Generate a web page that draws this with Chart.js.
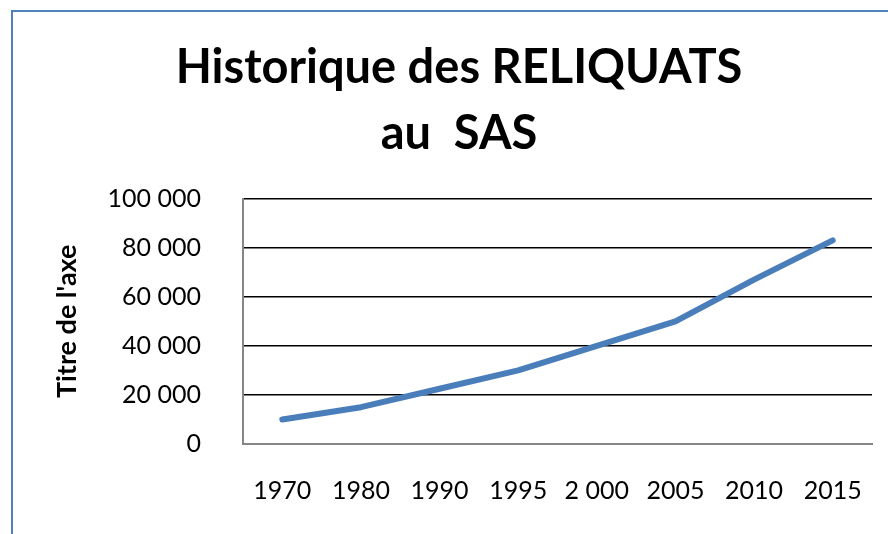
<!DOCTYPE html>
<html>
<head>
<meta charset="utf-8">
<title>Historique des RELIQUATS au SAS</title>
<script src="https://cdn.jsdelivr.net/npm/chart.js@4.4.1/dist/chart.umd.min.js"></script>
<style>
    html, body { margin: 0; padding: 0; background: #fff; overflow: hidden; }
    .wrapper { position: relative; width: 888px; height: 534px; }
    .frame {
        position: absolute; left: 11px; top: 10px; width: 900px; height: 600px;
        border-left: 2px solid #4f81bd; border-top: 2px solid #4f81bd;
        pointer-events: none;
    }
</style>
</head>
<body>

<script>
    const years = ["1970", "1980", "1990", "1995", "2 000", "2005", "2010", "2015"]
    const reliquats = [10000, 15000, 22500, 30000, 40000, 50000, 67000, 83000]
    const titleLines = ["Historique des RELIQUATS", "au  SAS"]
    const axisTitle = "Titre de l'axe"
</script>

<section class="wrapper">
    <canvas id="chart" width="888" height="534"></canvas>
    <div class="frame"></div>
</section>

<script>
    (() => {
        const ctx = document.getElementById('chart')

        // numbers like "100 000"
        const fmt = v => String(v).replace(/\B(?=(\d{3})+(?!\d))/g, ' ')

        new Chart(ctx, {
            type: 'line',
            data: {
                labels: years,
                datasets: [{
                    label: 'Reliquats',
                    data: reliquats,
                    borderColor: '#4a7ebb',
                    borderWidth: 6,
                    borderCapStyle: 'round',
                    borderJoinStyle: 'round',
                    pointRadius: 0,
                    tension: 0
                }]
            },
            options: {
                responsive: false,
                animation: false,
                layout: { padding: { left: 46, right: 16, top: 0, bottom: 0 } },
                plugins: {
                    legend: { display: false },
                    tooltip: { enabled: false },
                    title: {
                        display: true,
                        text: titleLines,
                        color: '#000',
                        font: { family: 'Lato', size: 47, weight: 'bold', lineHeight: 1.4 },
                        padding: { top: 35, bottom: 32 }
                    }
                },
                scales: {
                    x: {
                        offset: true,
                        grid: { display: false, drawTicks: false },
                        border: { display: true, color: '#868686', width: 2 },
                        ticks: {
                            color: '#000',
                            // tick padding also widens the side padding, so push labels down with lineHeight instead
                            padding: 2,
                            maxRotation: 0,
                            font: { family: 'Lato', size: 25, lineHeight: 3.6 }
                        },
                        afterFit: scale => { scale.height = 90 }
                    },
                    y: {
                        min: 0,
                        max: 100000,
                        grid: {
                            drawTicks: false,
                            color: c => c.tick && c.tick.value === 0 ? 'rgba(0,0,0,0)' : '#000',
                            lineWidth: 1.5
                        },
                        border: { display: true, color: '#868686', width: 2 },
                        ticks: {
                            stepSize: 20000,
                            color: '#000',
                            padding: 42,
                            font: { family: 'Lato', size: 25 },
                            callback: v => fmt(v)
                        },
                        title: {
                            display: true,
                            text: axisTitle,
                            color: '#000',
                            font: { family: 'Lato', size: 27, weight: 'bold', lineHeight: 1.2 },
                            padding: { top: 5, bottom: 0 }
                        },
                        afterFit: scale => { scale.width = 197 }
                    }
                }
            }
        })
    })()
</script>

</body>
</html>
